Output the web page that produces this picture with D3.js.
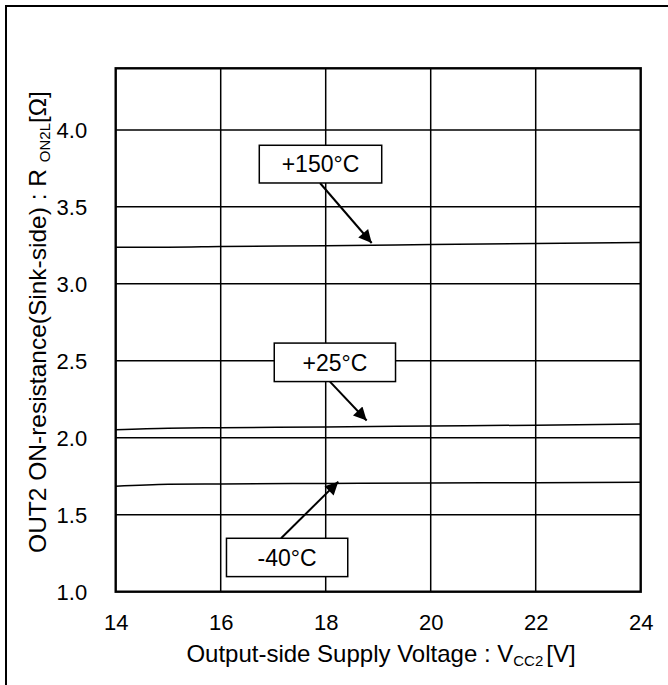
<!DOCTYPE html>
<html>
<head>
<meta charset="utf-8">
<script src="https://cdn.jsdelivr.net/npm/d3@7"></script>
<style>
  html, body { margin: 0; padding: 0; background: #fff; }
  svg { display: block; }
  text { font-family: "Liberation Sans", Arial, sans-serif; fill: #000; }
</style>
</head>
<body>
<svg id="chart" width="668" height="685"></svg>
<script>
// ---- Data ----
const voltages = [14, 15, 16, 18, 20, 22, 24];
const seriesM40 = [1.685, 1.698, 1.700, 1.703, 1.706, 1.708, 1.711];
const series25  = [2.052, 2.062, 2.065, 2.070, 2.076, 2.082, 2.090];
const series150 = [3.238, 3.238, 3.242, 3.248, 3.255, 3.262, 3.269];
const xTicks = [14, 16, 18, 20, 22, 24];
const yTicks = [1.0, 1.5, 2.0, 2.5, 3.0, 3.5, 4.0];
const xDomain = [14, 24];
const yDomain = [1.0, 4.4];
// annotations: label, box [x0,x1,yTop,yBottom], arrow [x0,y0,x1,y1] in data units
const annLabels = ["+150°C", "+25°C", "-40°C"];
const annBoxes = [[16.735, 19.067, 3.900, 3.655], [17.02, 19.33, 2.615, 2.365], [16.11, 18.42, 1.347, 1.098]];
const annArrows = [[17.891, 3.655, 18.876, 3.265], [18.08, 2.365, 18.78, 2.112], [17.15, 1.347, 18.24, 1.715]];

// ---- Layout ----
const svg = d3.select("#chart");
const L = 115.7, R = 640.7, T = 68.3, B = 591.7;
const x = d3.scaleLinear().domain(xDomain).range([L, R]);
const y = d3.scaleLinear().domain(yDomain).range([B, T]);
const FONT = '"Liberation Sans", Arial, sans-serif';

// outer frame
svg.append("rect").attr("x", 6).attr("y", 6).attr("width", 700).attr("height", 700)
  .attr("fill", "none").attr("stroke", "#000").attr("stroke-width", 2);

// grid
const g = svg.append("g");
g.selectAll(".hg").data(yTicks.filter(d => d > yDomain[0])).join("line")
  .attr("x1", L).attr("x2", R).attr("y1", d => y(d)).attr("y2", d => y(d))
  .attr("stroke", "#000").attr("stroke-width", 1.5);
g.selectAll(".vg").data(xTicks.filter(d => d > xDomain[0] && d < xDomain[1])).join("line")
  .attr("y1", T).attr("y2", B).attr("x1", d => x(d)).attr("x2", d => x(d))
  .attr("stroke", "#000").attr("stroke-width", 1.5);

// curves
const line = d3.line().x((d, i) => x(voltages[i])).y(d => y(d)).curve(d3.curveMonotoneX);
[seriesM40, series25, series150].forEach(s => {
  svg.append("path").datum(s).attr("d", line).attr("fill", "none")
    .attr("stroke", "#000").attr("stroke-width", 1.5);
});

// plot border
svg.append("rect").attr("x", L).attr("y", T).attr("width", R - L).attr("height", B - T)
  .attr("fill", "none").attr("stroke", "#000").attr("stroke-width", 2.4);

// axes (labels only)
const xAxis = d3.axisBottom(x).tickValues(xTicks).tickSize(0).tickPadding(0).tickFormat(d3.format("d"));
const xa = svg.append("g").attr("transform", `translate(0,${B})`).call(xAxis);
xa.select(".domain").remove();
xa.selectAll("text").attr("dy", null).attr("y", 38).style("font-size", "22px")
  .style("font-family", FONT);

const yAxis = d3.axisLeft(y).tickValues(yTicks).tickSize(0).tickPadding(0).tickFormat(d3.format(".1f"));
const ya = svg.append("g").attr("transform", `translate(${L},0)`).call(yAxis);
ya.select(".domain").remove();
ya.selectAll("text").attr("x", -28.5).attr("dy", "0.36em").style("font-size", "22px")
  .style("font-family", FONT);

// axis titles
const xt = svg.append("text").attr("x", 381).attr("y", 662)
  .attr("text-anchor", "middle").style("font-size", "24px");
xt.append("tspan").text("Output-side Supply Voltage : V");
xt.append("tspan").text("CC2").style("font-size", "15px").attr("dy", 4);
xt.append("tspan").text("[V]").attr("dy", -4).attr("dx", 3);

const yt = svg.append("text").attr("transform", `translate(46,322) rotate(-90)`)
  .attr("text-anchor", "middle").style("font-size", "24.5px");
yt.append("tspan").text("OUT2 ON-resistance(Sink-side) : R ");
yt.append("tspan").text("ON2L").style("font-size", "15px").attr("dy", 4);
yt.append("tspan").text("[Ω]").attr("dy", -4);

// annotations
const defs = svg.append("defs");
defs.append("marker").attr("id", "ah").attr("viewBox", "0 0 10 10").attr("refX", 10).attr("refY", 5)
  .attr("markerWidth", 8.5).attr("markerHeight", 6.5).attr("markerUnits", "strokeWidth").attr("orient", "auto")
  .append("path").attr("d", "M0,0 L10,5 L0,10 Z").attr("fill", "#000");

annLabels.forEach((lab, i) => {
  const b = annBoxes[i], a = annArrows[i];
  svg.append("line").attr("x1", x(a[0])).attr("y1", y(a[1])).attr("x2", x(a[2])).attr("y2", y(a[3]))
    .attr("stroke", "#000").attr("stroke-width", 2).attr("marker-end", "url(#ah)");
  svg.append("rect").attr("x", x(b[0])).attr("y", y(b[2])).attr("width", x(b[1]) - x(b[0]))
    .attr("height", y(b[3]) - y(b[2])).attr("fill", "#fff").attr("stroke", "#000").attr("stroke-width", 1.5);
  svg.append("text").attr("x", (x(b[0]) + x(b[1])) / 2).attr("y", (y(b[2]) + y(b[3])) / 2)
    .attr("dy", "0.36em").attr("text-anchor", "middle").style("font-size", "23px").text(lab);
});
</script>
</body>
</html>
